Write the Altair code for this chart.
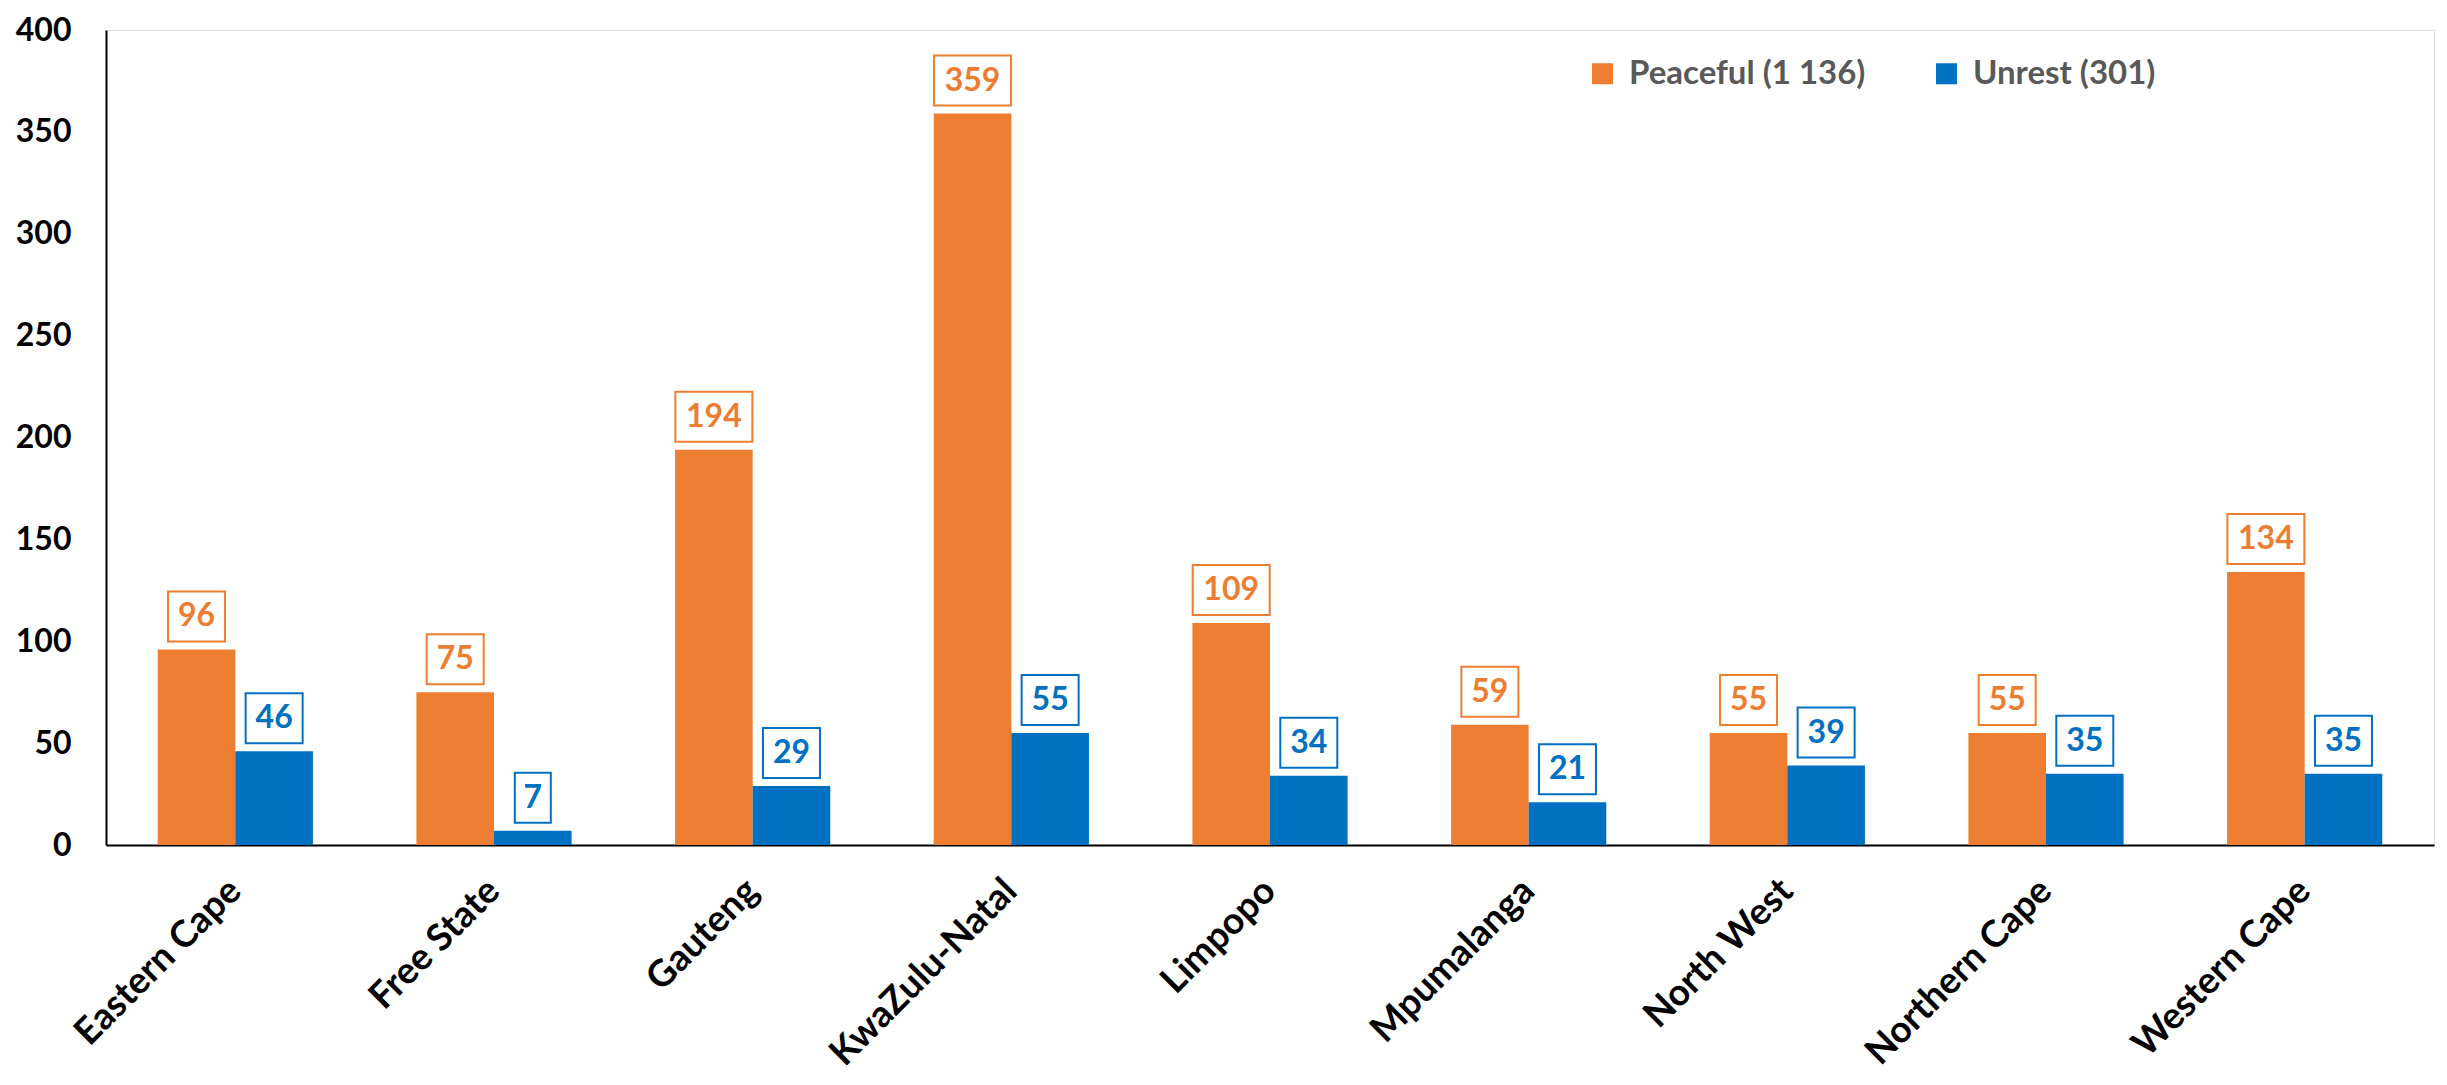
import altair as alt
import pandas as pd

provinces = ["Eastern Cape", "Free State", "Gauteng", "KwaZulu-Natal", "Limpopo",
             "Mpumalanga", "North West", "Northern Cape", "Western Cape"]
peaceful = [96, 75, 194, 359, 109, 59, 55, 55, 134]
unrest = [46, 7, 29, 55, 34, 21, 39, 35, 35]
series_names = ["Peaceful (1 136)", "Unrest (301)"]
series_colors = ["#ED7D31", "#0070C0"]
y_ticks = [0, 50, 100, 150, 200, 250, 300, 350, 400]

rows = []
for p, a, b in zip(provinces, peaceful, unrest):
    rows.append({"Province": p, "Series": series_names[0], "Value": a})
    rows.append({"Province": p, "Series": series_names[1], "Value": b})
df = pd.DataFrame(rows)
df["Digits"] = df["Value"].astype(str).str.len()

FONT = "Lato"

x_enc = alt.X("Province:N", sort=provinces,
              scale=alt.Scale(domain=provinces, paddingInner=0.4, paddingOuter=0.2),
              axis=alt.Axis(title=None, labelAngle=-45, labelAlign="right",
                            labelBaseline="middle", labelFont=FONT, labelFontWeight="bold",
                            labelFontSize=37, labelColor="#000000", ticks=False, tickSize=0,
                            labelPadding=40, domainColor="#000000", domainWidth=2,
                            labelLimit=500))
xoff = alt.XOffset("Series:N", sort=series_names,
                   scale=alt.Scale(domain=series_names, paddingInner=0, paddingOuter=0))
color_scale = alt.Scale(domain=series_names, range=series_colors)
y_scale = alt.Scale(domain=[0, 400], nice=False)

bars = alt.Chart(df).mark_bar().encode(
    x=x_enc,
    xOffset=xoff,
    y=alt.Y("Value:Q", scale=y_scale,
            axis=alt.Axis(title=None, values=y_ticks, grid=False, ticks=False, tickSize=0,
                          labelFont=FONT, labelFontWeight="bold", labelFontSize=32,
                          labelColor="#000000", labelPadding=35, domainColor="#000000",
                          domainWidth=2)),
    color=alt.Color("Series:N", scale=color_scale, sort=series_names,
                    legend=alt.Legend(title=None, orient="none", legendX=1480, legendY=27,
                                      direction="horizontal", symbolType="square",
                                      symbolSize=441, symbolStrokeWidth=0,
                                      labelFont=FONT, labelFontWeight="bold",
                                      labelFontSize=33, labelColor="#595959",
                                      labelOffset=10, columnPadding=64, padding=0,
                                      labelLimit=500)),
)

def box_layer(ndig, w):
    return alt.Chart(df).transform_filter(f"datum.Digits == {ndig}").mark_rect(
        width=w, fill="white", strokeWidth=2, yOffset=-58, y2Offset=-8
    ).encode(
        x=alt.X("Province:N", sort=provinces),
        xOffset=alt.XOffset("Series:N", sort=series_names),
        y=alt.Y("Value:Q"),
        y2=alt.Y2("Value"),
        stroke=alt.Color("Series:N", scale=color_scale, legend=None),
    )

boxes = [box_layer(1, 36), box_layer(2, 57), box_layer(3, 77)]

texts = alt.Chart(df).mark_text(font=FONT, fontWeight="bold", fontSize=32,
                                baseline="middle", align="center", dy=-33).encode(
    x=alt.X("Province:N", sort=provinces),
    xOffset=alt.XOffset("Series:N", sort=series_names),
    y=alt.Y("Value:Q"),
    text=alt.Text("Value:Q"),
    color=alt.Color("Series:N", scale=color_scale, legend=None),
)

chart = alt.layer(bars, *boxes, texts).properties(
    width=2328, height=815,
    autosize=alt.AutoSizeParams(type="none"),
    padding={"left": 98, "top": 22, "right": 5, "bottom": 228},
).configure_view(stroke=None).configure(background="white")

chart.save("out.html", embed_options={"renderer": "svg", "actions": False})
